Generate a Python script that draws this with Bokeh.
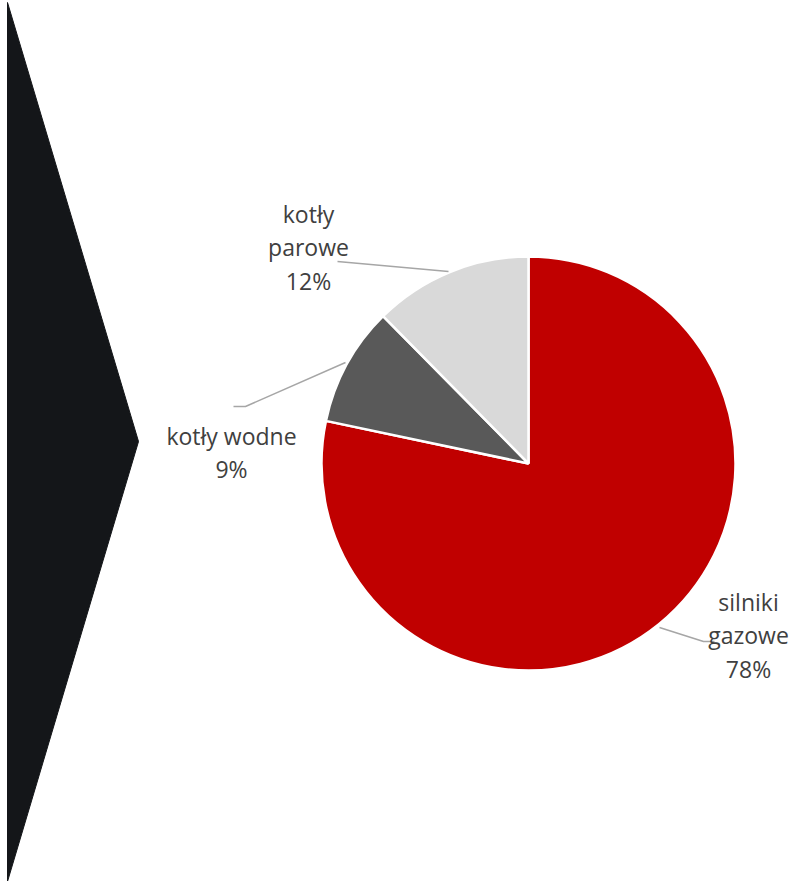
import math
from bokeh.plotting import figure
from bokeh.models import Range1d, ColumnDataSource
from bokeh.core.properties import value
from bokeh.embed import file_html
from bokeh.resources import INLINE

# ---- data ----
categories = ["silniki gazowe", "kotły wodne", "kotły parowe"]
shares = [78.3, 9.3, 12.4]
pct_labels = ["78%", "9%", "12%"]
colors = ["#C00000", "#595959", "#D9D9D9"]

W, H = 803, 881
p = figure(width=W, height=H, output_backend="svg", toolbar_location=None,
           x_range=Range1d(0, W), y_range=Range1d(0, H), min_border=0)
p.axis.visible = False
p.grid.visible = False
p.outline_line_color = None
p.background_fill_color = "white"
p.border_fill_color = "white"

def Y(y):
    return H - y

# chevron decoration
p.patch([7, 138, 7], [Y(2), Y(441), Y(881)], fill_color="#141619", line_color="#141619")

# pie
cx, cy, r = 528, Y(463), 207
total = sum(shares)
starts, ends = [], []
cum = 0.0
for s in shares:
    starts.append(math.pi / 2 - 2 * math.pi * cum / total)
    cum += s
    ends.append(math.pi / 2 - 2 * math.pi * cum / total)
src = ColumnDataSource(dict(start=starts, end=ends, color=colors))
p.wedge(x=cx, y=cy, radius=r, start_angle="start", end_angle="end",
        direction="clock", fill_color="color", line_color="white", line_width=2.5,
        source=src)

# leader lines
lead = "#A6A6A6"
p.line([659, 703, 714], [Y(627), Y(641), Y(641)], line_color=lead, line_width=1.5)
p.line([233, 245, 345], [Y(406), Y(406), Y(362)], line_color=lead, line_width=1.5)
p.line([337, 448], [Y(261), Y(271)], line_color=lead, line_width=1.5)

# labels
label_lines = {
    "silniki gazowe": ["silniki", "gazowe"],
    "kotły wodne": ["kotły wodne"],
    "kotły parowe": ["kotły", "parowe"],
}
label_pos = {
    "silniki gazowe": (748, 601),
    "kotły wodne": (231, 435),
    "kotły parowe": (308, 213),
}
lh = 33.5
xs, ys, ts = [], [], []
for cat, pct in zip(categories, pct_labels):
    lines = label_lines[cat] + [pct]
    x0, y0 = label_pos[cat]
    for i, t in enumerate(lines):
        xs.append(x0)
        ys.append(Y(y0 + i * lh))
        ts.append(t)
p.text(x=xs, y=ys, text=ts, text_align="center", text_baseline="middle",
       text_font=value("Open Sans"), text_font_size="23px", text_color="#404040")

open("out.html", "w").write(file_html(p, INLINE))
